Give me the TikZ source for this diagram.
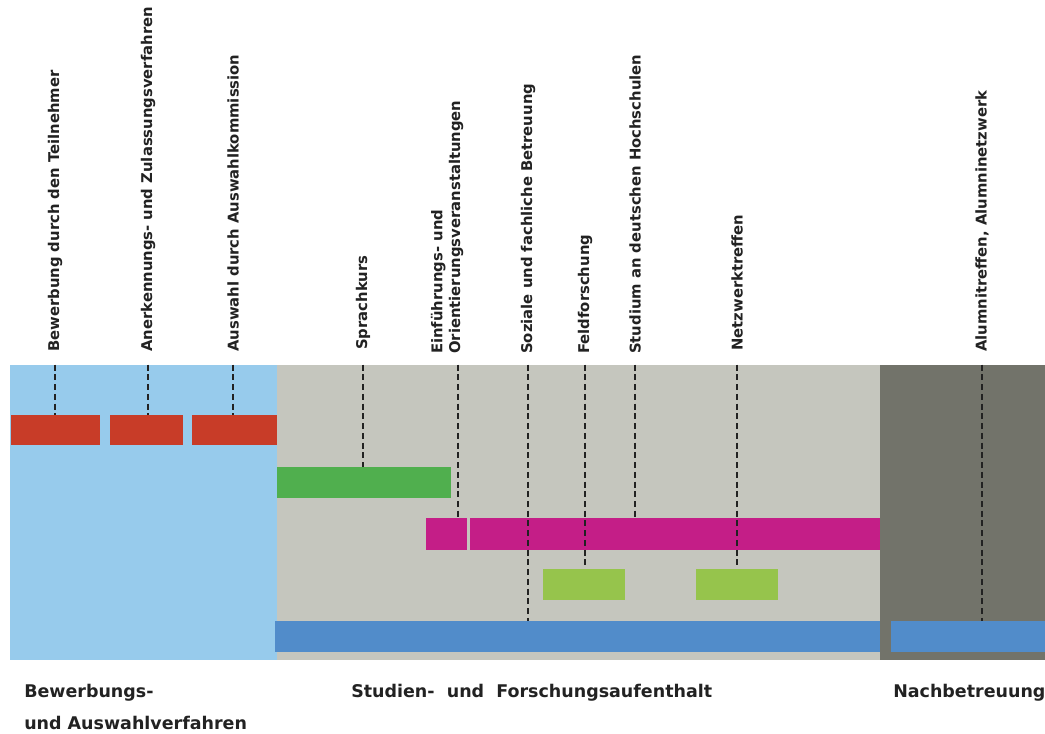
\documentclass[tikz,border=0pt]{standalone}
\usepackage{fontspec}
\setmainfont{DejaVu Sans}
\usepackage{tikz}
\usetikzlibrary{positioning, fit}
\usepackage{xcolor}

\definecolor{phaseone}{RGB}{151,203,236}
\definecolor{phasetwo}{RGB}{197,198,190}
\definecolor{phasethree}{RGB}{114,115,106}
\definecolor{selred}{RGB}{200,60,40}
\definecolor{langgreen}{RGB}{80,175,78}
\definecolor{studymag}{RGB}{196,30,135}
\definecolor{fieldgreen}{RGB}{150,196,76}
\definecolor{carebl}{RGB}{81,140,202}
\definecolor{ink}{RGB}{34,34,34}

\tikzstyle{zone} = [rectangle, inner sep=0pt, draw=none]
\tikzstyle{bar} = [rectangle, inner sep=0pt, draw=none]
\tikzstyle{vlabel} = [rotate=90, anchor=west, inner sep=0pt, text=ink, font=\fontsize{11.1}{13.3}\selectfont\bfseries]
\tikzstyle{phaselabel} = [inner sep=0pt, text=ink, align=left, font=\fontsize{13.1}{24}\selectfont\bfseries]
\tikzstyle{guide} = [draw=ink, line width=0.9pt, dash pattern=on 4.5pt off 2.8pt]

\begin{document}
\begin{tikzpicture}[x=0.75pt, y=-0.75pt]
\useasboundingbox (0,0) rectangle (1045,733);

% Phases
\node (apply) [zone, fill=phaseone, fit={(10,365) (277,660)}] {};
\node (stay) [zone, fill=phasetwo, fit={(277,365) (880,660)}] {};
\node (after) [zone, fill=phasethree, fit={(880,365) (1045,660)}] {};

% Bars
\node (red1) [bar, fill=selred, fit={(11,415) (100,445)}] {};
\node (red2) [bar, fill=selred, fit={(110,415) (183,445)}] {};
\node (red3) [bar, fill=selred, fit={(192,415) (277,445)}] {};
\node (lang) [bar, fill=langgreen, fit={(277,467) (451,498)}] {};
\node (intro) [bar, fill=studymag, fit={(426,518) (467,550)}] {};
\node (study) [bar, fill=studymag, fit={(470,518) (880,550)}] {};
\node (field) [bar, fill=fieldgreen, fit={(543,569) (625,600)}] {};
\node (net) [bar, fill=fieldgreen, fit={(696,569) (778,600)}] {};
\node (care) [bar, fill=carebl, fit={(275,621) (880,652)}] {};
\node (alumni) [bar, fill=carebl, fit={(891,621) (1045,652)}] {};

% Labels
\node (l1) [vlabel] at (55,352) {Bewerbung durch den Teilnehmer};
\node (l2) [vlabel] at (148,352) {Anerkennungs- und Zulassungsverfahren};
\node (l3) [vlabel] at (233,352) {Auswahl durch Auswahlkommission};
\node (l4) [vlabel] at (363,350) {Sprachkurs};
\node (l5) [vlabel, align=left] at (447,354) {Einführungs- und\\Orientierungsveranstaltungen};
\node (l6) [vlabel] at (528,354) {Soziale und fachliche Betreuung};
\node (l7) [vlabel] at (585,354) {Feldforschung};
\node (l8) [vlabel] at (635,354) {Studium an deutschen Hochschulen};
\node (l9) [vlabel] at (737,351) {Netzwerktreffen};
\node (l10) [vlabel] at (982,352) {Alumnitreffen, Alumninetzwerk};

% Guides
\draw [guide] (l1.west |- apply.north) -- (l1.west |- red1.north);
\draw [guide] (l2.west |- apply.north) -- (l2.west |- red2.north);
\draw [guide] (l3.west |- apply.north) -- (l3.west |- red3.north);
\draw [guide] (l4.west |- stay.north) -- (l4.west |- lang.north);
\draw [guide] ([xshift=8.25pt]l5.west |- stay.north) -- ([xshift=8.25pt]l5.west |- intro.north);
\draw [guide] (l6.west |- stay.north) -- (l6.west |- care.north);
\draw [guide] (l7.west |- stay.north) -- (l7.west |- field.north);
\draw [guide] (l8.west |- stay.north) -- (l8.west |- study.north);
\draw [guide] (l9.west |- stay.north) -- (l9.west |- net.north);
\draw [guide] (l10.west |- after.north) -- (l10.west |- alumni.north);

% Phase names
\node (p1) [phaselabel, anchor=base west] at (24,729) {Bewerbungs-\\und Auswahlverfahren};
\node (p2) [phaselabel, anchor=base west] at (351,697) {Studien-\ \ und\ \ Forschungsaufenthalt};
\node (p3) [phaselabel, anchor=base west] at (893,697) {Nachbetreuung};

\end{tikzpicture}
\end{document}
